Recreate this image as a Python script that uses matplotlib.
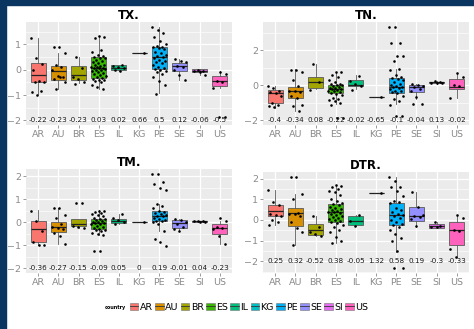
import numpy as np
import matplotlib.pyplot as plt
from matplotlib.patches import Patch, Rectangle
from matplotlib.lines import Line2D
from matplotlib.ticker import MultipleLocator

countries = ["AR", "AU", "BR", "ES", "IL", "KG", "PE", "SE", "SI", "US"]
colors = ["#F8766D", "#D89000", "#A3A500", "#39B600", "#00BF7D",
          "#00BFC4", "#00B0F6", "#9590FF", "#E76BF3", "#FF62BC"]

# ---- TX. ----
tx_q1 = [-0.49, -0.39, -0.41, -0.32, 0.0, 0.66, 0.03, -0.06, -0.1, -0.65]
tx_med = [-0.19, -0.04, -0.19, 0.06, 0.07, 0.66, 0.49, 0.15, -0.06, -0.45]
tx_q3 = [0.26, 0.13, 0.13, 0.49, 0.17, 0.66, 0.88, 0.28, 0.04, -0.23]
tx_lo = [-0.95, -0.75, -0.52, -0.75, -0.05, 0.66, -0.94, -0.39, -0.2, -0.72]
tx_hi = [1.25, 0.65, 0.49, 1.32, 0.2, 0.66, 1.7, 0.41, 0.0, -0.07]
tx_pts = [
    [1.25, 0.45, 0.22, 0.0, -0.45, -0.48, -0.5, -0.85, -0.9, -1.0],
    [0.9, 0.9, 0.65, 0.2, 0.1, 0.0, -0.25, -0.3, -0.35, -0.3, -0.5, -0.75],
    [0.52, 0.05, -0.3, -0.38, -0.5, -0.58],
    [1.32, 1.3, 1.25, 0.78, 0.7, 0.6, 0.55, 0.5, 0.48, 0.45, 0.4, 0.35, 0.3, 0.25,
     0.2, 0.18, 0.15, 0.12, 0.1, 0.08, 0.06, 0.05, 0.02, 0.0, -0.02, -0.05, -0.1,
     -0.12, -0.15, -0.2, -0.25, -0.3, -0.32, -0.35, -0.4, -0.42, -0.45, -0.5,
     -0.6, -0.68, -0.75],
    [0.18, 0.15, 0.1, 0.05, 0.0, -0.05],
    [0.66],
    [1.7, 1.55, 1.45, 1.3, 1.15, 1.0, 0.95, 0.9, 0.88, 0.85, 0.8, 0.7, 0.65, 0.6,
     0.55, 0.5, 0.48, 0.4, 0.35, 0.3, 0.25, 0.2, 0.1, 0.05, 0.03, 0.0, -0.05,
     -0.1, -0.15, -0.3, -0.45, -0.6, -0.95],
    [0.42, 0.35, 0.3, 0.15, 0.1, 0.0, -0.2, -0.4],
    [0.0, -0.05, -0.06, -0.1, -0.2],
    [-0.1, -0.15, -0.45, -0.5, -0.72, -1.85, -1.88],
]
tx_lab = [-0.22, -0.23, -0.23, 0.03, 0.02, 0.66, 0.5, 0.12, -0.06, -0.5]

# ---- TN. ----
tn_q1 = [-0.99, -0.7, -0.17, -0.46, -0.06, -0.67, -0.42, -0.36, 0.13, -0.23]
tn_med = [-0.42, -0.32, 0.19, -0.19, 0.02, -0.67, -0.1, -0.1, 0.17, -0.08]
tn_q3 = [-0.29, -0.1, 0.48, 0.02, 0.29, -0.67, 0.4, 0.02, 0.2, 0.34]
tn_lo = [-1.28, -1.47, -0.23, -1.09, -0.23, -0.67, -1.09, -0.8, 0.1, -0.75]
tn_hi = [-0.05, 0.91, 1.2, 0.76, 0.59, -0.67, 0.95, 0.05, 0.22, 0.72]
tn_pts = [
    [-0.05, -0.15, -0.3, -0.4, -0.45, -0.6, -1.0, -1.1, -1.2, -1.25],
    [0.9, 0.9, 0.75, 0.3, -0.05, -0.3, -0.35, -0.4, -0.6, -0.7, -1.1, -1.2, -1.47],
    [1.2, 0.2, -0.25],
    [0.75, 0.75, 0.6, 0.5, 0.3, 0.2, 0.1, 0.05, 0.02, 0.0, -0.05, -0.1, -0.15,
     -0.18, -0.2, -0.22, -0.25, -0.3, -0.35, -0.4, -0.45, -0.5, -0.55, -0.7,
     -0.8, -0.85, -0.9, -1.0, -1.1, -1.85, -1.85],
    [0.55, 0.25, 0.05, -0.05, -0.25],
    [-0.67],
    [3.35, 3.35, 2.44, 2.44, 1.7, 1.7, 1.39, 0.95, 0.9, 0.6, 0.5, 0.4, 0.35, 0.3,
     0.2, 0.1, 0.0, -0.05, -0.1, -0.12, -0.15, -0.2, -0.3, -0.35, -0.4, -0.45,
     -0.6, -0.8, -0.9, -1.1, -1.75, -1.75],
    [0.05, 0.0, -0.05, -0.1, -0.2, -0.3, -0.65, -1.05, -1.05],
    [0.22, 0.18, 0.16, 0.14, 0.12],
    [0.7, 0.45, 0.0, -0.05, -0.75],
]
tn_lab = [-0.4, -0.34, 0.08, -0.22, -0.02, -0.65, -0.1, -0.04, 0.13, -0.02]

# ---- TM. ----
tm_q1 = [-0.86, -0.41, -0.16, -0.31, -0.04, 0.0, 0.03, -0.27, 0.02, -0.53]
tm_med = [-0.31, -0.22, -0.1, -0.04, 0.07, 0.0, 0.25, -0.04, 0.04, -0.27]
tm_q3 = [0.06, -0.01, 0.15, 0.13, 0.15, 0.0, 0.47, 0.1, 0.06, -0.07]
tm_lo = [-1.0, -0.96, -0.25, -0.56, -0.07, 0.0, -0.4, -0.38, 0.0, -0.93]
tm_hi = [0.52, 0.62, 0.15, 0.52, 0.37, 0.0, 0.77, 0.15, 0.07, 0.05]
tm_pts = [
    [0.5, 0.05, -0.4, -0.85, -1.0, -1.0],
    [0.62, 0.62, 0.3, 0.2, -0.1, -0.2, -0.25, -0.3, -0.45, -0.6, -0.95],
    [0.85, 0.85, -0.15, -0.2, -0.25],
    [0.5, 0.48, 0.45, 0.4, 0.35, 0.3, 0.25, 0.2, 0.15, 0.12, 0.1, 0.05, 0.02, 0.0,
     -0.02, -0.05, -0.08, -0.1, -0.15, -0.2, -0.25, -0.3, -0.32, -0.35, -0.4,
     -0.45, -0.5, -0.55, -1.25, -1.25],
    [0.37, 0.2, 0.1, 0.0, -0.08],
    [0.0],
    [2.1, 2.1, 1.75, 1.65, 1.5, 1.4, 0.77, 0.7, 0.6, 0.5, 0.45, 0.4, 0.35, 0.3,
     0.28, 0.25, 0.2, 0.15, 0.1, 0.05, 0.03, 0.0, -0.1, -0.4, -0.75, -0.85, -1.05],
    [0.15, 0.1, 0.0, -0.1, -0.2, -0.3, -0.38],
    [0.07, 0.05, 0.03, 0.02, 0.0],
    [0.18, 0.05, -0.2, -0.25, -0.3, -0.6, -0.93],
]
tm_lab = [-0.36, -0.27, -0.15, -0.09, 0.05, 0, 0.19, -0.01, 0.04, -0.23]

# ---- DTR. ----
dtr_q1 = [0.17, -0.3, -0.75, -0.11, -0.27, 1.32, -0.27, -0.03, -0.37, -1.22]
dtr_med = [0.44, 0.32, -0.51, 0.37, -0.05, 1.32, 0.24, 0.21, -0.3, -0.51]
dtr_q3 = [0.73, 0.6, -0.22, 0.76, 0.2, 1.32, 0.84, 0.65, -0.19, -0.08]
dtr_lo = [-0.27, -1.22, -0.79, -1.14, -0.3, 1.32, -1.54, -0.35, -0.37, -1.8]
dtr_hi = [1.47, 1.24, 0.17, 1.67, 0.22, 1.32, 2.06, 1.37, -0.1, 0.22]
dtr_pts = [
    [1.47, 0.85, 0.7, 0.3, 0.25, 0.2, 0.0, -0.1, -0.27],
    [2.1, 2.1, 1.25, 1.0, 0.35, 0.3, 0.3, 0.2, -0.1, -0.4, -0.6, -1.22],
    [0.17, -0.35, -0.6, -0.7, -0.8],
    [1.67, 1.65, 1.6, 1.5, 1.4, 1.35, 1.2, 1.0, 0.9, 0.8, 0.75, 0.7, 0.65, 0.6,
     0.55, 0.5, 0.45, 0.4, 0.38, 0.35, 0.3, 0.25, 0.2, 0.15, 0.1, 0.05, 0.0,
     -0.05, -0.1, -0.15, -0.25, -0.35, -0.5, -0.6, -0.85, -1.0, -1.14],
    [0.22, -0.05, -0.3],
    [1.32],
    [2.1, 1.9, 1.6, 1.6, 1.4, 1.15, 0.9, 0.85, 0.8, 0.6, 0.5, 0.4, 0.3, 0.25, 0.2,
     0.1, 0.0, -0.1, -0.2, -0.25, -0.35, -0.5, -0.7, -0.9, -1.0, -1.5, -2.35, -2.35],
    [1.37, 0.65, 0.25, 0.2, 0.15, 0.05, -0.3],
    [-0.1, -0.3, -0.32, -0.35],
    [0.22, 0.1, -0.48, -0.55, -1.43, -1.8],
]
dtr_lab = [0.25, 0.32, -0.52, 0.38, -0.05, 1.32, 0.58, 0.19, -0.3, -0.33]

label_y = -2

fig = plt.figure(figsize=(4.74, 3.29), dpi=100)
fig.patch.set_facecolor("white")

# navy frame on top and left edge
fig.patches.append(Rectangle((0, 1 - 5 / 329), 1, 5 / 329, transform=fig.transFigure,
                             color="#0a3561", zorder=0))
fig.patches.append(Rectangle((0, 0), 6 / 474, 1, transform=fig.transFigure,
                             color="#0a3561", zorder=0))

tick_col = "#8a8a8a"


def draw_panel(rect, title, q1, med, q3, lo, hi, pts, labs, major):
    ax = fig.add_axes(rect)
    ax.set_facecolor("#EBEBEB")
    for s in ax.spines.values():
        s.set_visible(False)
    pos = np.arange(1, len(countries) + 1)
    stats = []
    for i in range(len(countries)):
        stats.append(dict(q1=q1[i], med=med[i], q3=q3[i], whislo=lo[i],
                          whishi=hi[i], fliers=[]))
    bp = ax.bxp(stats, positions=pos, widths=0.75, patch_artist=True,
                showcaps=False,
                boxprops=dict(edgecolor="#5a5a5a", linewidth=0.6),
                whiskerprops=dict(color="#5a5a5a", linewidth=0.6),
                medianprops=dict(color="#222222", linewidth=0.9))
    for patch, c in zip(bp["boxes"], colors):
        patch.set_facecolor(c)
    for b in bp["boxes"] + bp["whiskers"] + bp["medians"]:
        b.set_zorder(3)
    # jittered points
    for i, vals in enumerate(pts):
        j = np.arange(len(vals))
        off = ((j * 0.381966 + i * 0.17) % 1 - 0.5) * 0.72
        ax.scatter(pos[i] + off, vals, s=3.5, color="black", zorder=4,
                   linewidths=0)
        ax.text(pos[i], label_y, f"{labs[i]:g}", ha="center", va="center",
                fontsize=5.2, color="#1a1a1a", zorder=5)
    allv = [v for vals in pts for v in vals] + list(lo) + list(hi) + [label_y]
    vmin, vmax = min(allv), max(allv)
    pad = 0.05 * (vmax - vmin)
    ax.set_ylim(vmin - pad, vmax + pad)
    ax.set_xlim(0.4, len(countries) + 0.6)
    ax.set_xticks(pos)
    ax.set_xticklabels(countries)
    ax.yaxis.set_major_locator(MultipleLocator(major))
    ax.yaxis.set_minor_locator(MultipleLocator(major / 2))
    ax.grid(which="major", color="white", linewidth=0.9, zorder=0)
    ax.grid(which="minor", axis="y", color="white", linewidth=0.45, zorder=0)
    ax.set_axisbelow(True)
    ax.tick_params(axis="both", which="major", labelsize=6.8, colors=tick_col,
                   length=2, width=0.6, pad=1.5)
    ax.tick_params(which="minor", length=0)
    ax.set_title(title, fontsize=8.5, fontweight="bold", pad=2.5)
    return ax


draw_panel([26 / 474, 1 - 125 / 329, 206 / 474, 103 / 329], "TX.",
           tx_q1, tx_med, tx_q3, tx_lo, tx_hi, tx_pts, tx_lab, 1)
draw_panel([263 / 474, 1 - 125 / 329, 206 / 474, 103 / 329], "TN.",
           tn_q1, tn_med, tn_q3, tn_lo, tn_hi, tn_pts, tn_lab, 2)
draw_panel([26 / 474, 1 - 273 / 329, 206 / 474, 104 / 329], "TM.",
           tm_q1, tm_med, tm_q3, tm_lo, tm_hi, tm_pts, tm_lab, 1)
draw_panel([263 / 474, 1 - 273 / 329, 206 / 474, 101 / 329], "DTR.",
           dtr_q1, dtr_med, dtr_q3, dtr_lo, dtr_hi, dtr_pts, dtr_lab, 1)

# legend
handles = []
for c in colors:
    handles.append((Patch(facecolor=c, edgecolor="#777777", linewidth=0.4),
                    Line2D([0], [0], color="#333333", linewidth=0.6)))
fig.text(105 / 474, 1 - 307 / 329, "country", fontsize=3.5, fontweight="bold",
         va="center", ha="left")
fig.legend(handles, countries, loc="center", bbox_to_anchor=(249 / 474, 1 - 307 / 329),
           ncol=10, frameon=False, fontsize=6.8, handlelength=0.9, handleheight=0.8,
           handletextpad=0.15, columnspacing=0.25, borderpad=0)

fig.savefig("out.png", dpi=100)
